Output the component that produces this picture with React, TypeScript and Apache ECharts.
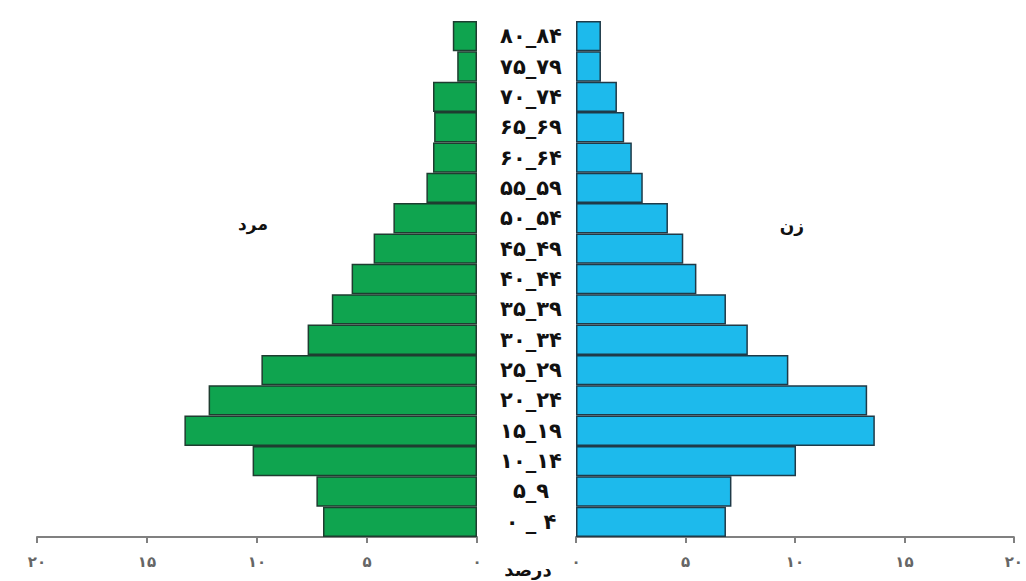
import React, { useEffect, useRef } from "react";
import * as echarts from "echarts";

const ageGroups = [
  "۰ _ ۴", "۵_۹", "۱۰_۱۴", "۱۵_۱۹", "۲۰_۲۴", "۲۵_۲۹", "۳۰_۳۴", "۳۵_۳۹", "۴۰_۴۴",
  "۴۵_۴۹", "۵۰_۵۴", "۵۵_۵۹", "۶۰_۶۴", "۶۵_۶۹", "۷۰_۷۴", "۷۵_۷۹", "۸۰_۸۴",
];
const maleValues = [7.0, 7.3, 10.2, 13.3, 12.2, 9.8, 7.7, 6.6, 5.7, 4.7, 3.8, 2.3, 2.0, 1.95, 2.0, 0.9, 1.1];
const femaleValues = [6.85, 7.1, 10.05, 13.65, 13.3, 9.7, 7.85, 6.85, 5.5, 4.9, 4.2, 3.05, 2.55, 2.2, 1.87, 1.14, 1.14];
const tickLabels: Record<number, string> = { 0: "۰", 5: "۵", 10: "۱۰", 15: "۱۵", 20: "۲۰" };
const maleLabel = "مرد";
const femaleLabel = "زن";
const unitLabel = "درصد";

const FONT = "'DejaVu Sans', 'Noto Sans', sans-serif";

export default function App() {
  const ref = useRef<HTMLDivElement>(null);
  useEffect(() => {
    if (!ref.current) return;
    const chart = echarts.init(ref.current, undefined, { renderer: "svg" });
    const xAxisCommon = {
      type: "value" as const,
      min: 0,
      max: 20,
      interval: 5,
      splitLine: { show: false },
      axisLine: { show: true, lineStyle: { color: "#808080", width: 2 } },
      axisTick: { show: true, length: 6, lineStyle: { color: "#808080", width: 2 } },
      axisLabel: {
        margin: 17,
        color: "#666",
        fontWeight: "bold" as const,
        fontSize: 15,
        fontFamily: FONT,
        formatter: (v: number) => tickLabels[v] ?? "",
      },
    };
    chart.setOption({
      animation: false,
      backgroundColor: "#ffffff",
      grid: [
        { left: 37, right: 549, top: 21, bottom: 44 },
        { left: 576, right: 8, top: 21, bottom: 44 },
      ],
      xAxis: [
        { ...xAxisCommon, gridIndex: 0, inverse: true },
        { ...xAxisCommon, gridIndex: 1 },
      ],
      yAxis: [
        {
          type: "category",
          gridIndex: 0,
          data: ageGroups,
          axisLine: { show: false },
          axisTick: { show: false },
          axisLabel: { show: false },
        },
        {
          type: "category",
          gridIndex: 1,
          data: ageGroups,
          axisLine: { show: false },
          axisTick: { show: false },
          axisLabel: {
            show: true,
            align: "center",
            margin: 45,
            color: "#111",
            fontWeight: "bold",
            fontSize: 21,
            fontFamily: FONT,
          },
        },
      ],
      series: [
        {
          type: "bar",
          xAxisIndex: 0,
          yAxisIndex: 0,
          data: maleValues,
          barWidth: "100%",
          barCategoryGap: "0%",
          itemStyle: { color: "#0fa44f", borderColor: "#1e3d30", borderWidth: 1.5 },
        },
        {
          type: "bar",
          xAxisIndex: 1,
          yAxisIndex: 1,
          data: femaleValues,
          barWidth: "100%",
          barCategoryGap: "0%",
          itemStyle: { color: "#1dbaec", borderColor: "#1f3a48", borderWidth: 1.5 },
        },
      ],
      graphic: [
        {
          type: "text",
          x: 253,
          y: 224,
          style: {
            text: maleLabel,
            fill: "#111",
            font: `bold 17px ${FONT}`,
            align: "center",
            verticalAlign: "middle",
          },
        },
        {
          type: "text",
          x: 792,
          y: 226,
          style: {
            text: femaleLabel,
            fill: "#111",
            font: `bold 17px ${FONT}`,
            align: "center",
            verticalAlign: "middle",
          },
        },
        {
          type: "text",
          x: 528,
          y: 569,
          style: {
            text: unitLabel,
            fill: "#111",
            font: `bold 18px ${FONT}`,
            align: "center",
            verticalAlign: "middle",
          },
        },
      ],
    });
    return () => chart.dispose();
  }, []);
  return (
    <div
      ref={ref}
      style={{ position: "fixed", left: 0, top: 0, width: 1026, height: 581 }}
    />
  );
}
